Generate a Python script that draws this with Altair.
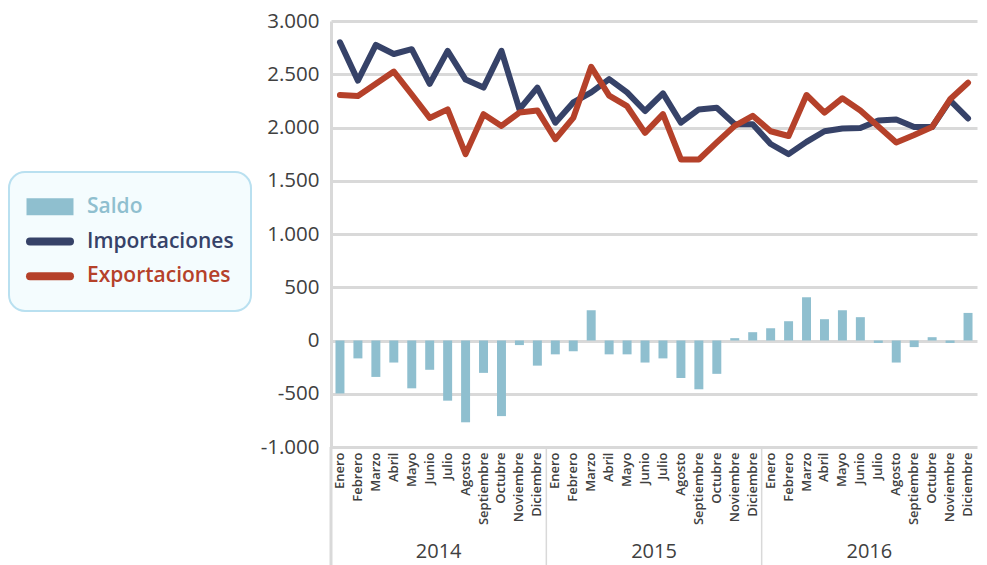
import altair as alt
import pandas as pd

# ---------------- data ----------------
months = ["Enero", "Febrero", "Marzo", "Abril", "Mayo", "Junio", "Julio",
          "Agosto", "Septiembre", "Octubre", "Noviembre", "Diciembre"]
years = ["2014", "2015", "2016"]

saldo = [-497, -168, -342, -207, -449, -275, -565, -768, -304, -710, -43, -236,
         -130, -101, 284, -130, -130, -207, -168, -352, -458, -313, 22, 78,
         115, 181, 406, 200, 284, 219, -23, -207, -62, 31, -23, 259]

importaciones = [2800, 2440, 2775, 2690, 2735, 2410, 2720, 2450, 2375, 2720, 2170, 2375,
                 2045, 2235, 2330, 2455, 2330, 2155, 2320, 2045, 2170, 2185, 2030, 2030,
                 1845, 1750, 1865, 1965, 1990, 1995, 2065, 2075, 2005, 2005, 2255, 2085]

exportaciones = [2305, 2295, 2410, 2525, 2310, 2090, 2170, 1750, 2125, 2015, 2140, 2160,
                 1890, 2090, 2570, 2300, 2200, 1950, 2125, 1700, 1700, 1860, 2015, 2110,
                 1965, 1920, 2305, 2140, 2275, 2160, 2010, 1860, 1930, 2005, 2265, 2420]

series = ["Saldo", "Importaciones", "Exportaciones"]
colors = ["#8fbfcf", "#364268", "#b5412a"]
y_ticks = [-1000, -500, 0, 500, 1000, 1500, 2000, 2500, 3000]

keys = [f"{y}-{m + 1:02d}" for y in years for m in range(len(months))]
df = pd.DataFrame({"key": keys, "saldo": saldo,
                   "imp": importaciones, "exp": exportaciones})
sep_df = pd.DataFrame({"key": [f"{y}-01" for y in years]})
year_df = pd.DataFrame({"key": [f"{y}-06" for y in years], "year": years})
leg_df = pd.DataFrame({"series": series})

# ---------------- layout constants ----------------
W, H = 646, 426
GRID = "#d9d9d9"
TXT = "#404040"
FONT = "Open Sans"

month_expr = ("[" + ",".join(f"'{m}'" for m in months) + "]"
              "[toNumber(substring(datum.value, 5, 7)) - 1]")
y_expr = ("(datum.value < 0 ? '-' : '') + "
          "replace(format(abs(datum.value), ','), ',', '.')")

x_enc = alt.X(
    "key:O",
    scale=alt.Scale(paddingInner=0, paddingOuter=0),
    axis=alt.Axis(title=None, labelAngle=270, labelExpr=month_expr,
                  labelFontSize=13, labelFontWeight=600, labelColor=TXT,
                  labelFont=FONT, labelPadding=5, ticks=False, domain=False,
                  grid=False),
)

y_enc = alt.Y(
    "saldo:Q",
    scale=alt.Scale(domain=[-1000, 3000], nice=False),
    axis=alt.Axis(title=None, values=y_ticks, labelExpr=y_expr,
                  labelFontSize=20.5, labelColor=TXT, labelFont=FONT,
                  labelPadding=12, ticks=False, domain=True,
                  domainColor=GRID, domainWidth=3, grid=True,
                  gridColor=GRID, gridWidth=3),
)

base = alt.Chart(df)

bars = base.mark_bar(color=colors[0], width=alt.RelativeBandSize(0.5)).encode(
    x=x_enc, y=y_enc)

imp_line = base.mark_line(color=colors[1], strokeWidth=6, strokeJoin="round",
                          strokeCap="round").encode(
    x=alt.X("key:O"), y=alt.Y("imp:Q"))

exp_line = base.mark_line(color=colors[2], strokeWidth=6, strokeJoin="round",
                          strokeCap="round").encode(
    x=alt.X("key:O"), y=alt.Y("exp:Q"))

sep_first = alt.Chart(sep_df).transform_filter(
    alt.datum.key == sep_df["key"][0]).mark_rule(
    color=GRID, strokeWidth=3).encode(
    x=alt.X("key:O", bandPosition=0), y=alt.value(H), y2=alt.value(H + 123))

sep_rest = alt.Chart(sep_df).transform_filter(
    alt.datum.key != sep_df["key"][0]).mark_rule(
    color=GRID, strokeWidth=1.5).encode(
    x=alt.X("key:O", bandPosition=0), y=alt.value(H), y2=alt.value(H + 123))

year_text = alt.Chart(year_df).mark_text(
    fontSize=20, color=TXT, font=FONT, baseline="middle").encode(
    x=alt.X("key:O", bandPosition=1), y=alt.value(H + 105), text="year:N")

main = alt.layer(bars, imp_line, exp_line, sep_first, sep_rest, year_text).properties(
    width=W, height=H, view=alt.ViewBackground(stroke="transparent"))

# ---------------- legend panel ----------------
ycat = alt.Y("series:N", sort=series, axis=None,
             scale=alt.Scale(type="point", padding=1.0))
col = alt.Color("series:N", scale=alt.Scale(domain=series, range=colors),
                legend=None)

lbase = alt.Chart(leg_df)
sw_bar = lbase.transform_filter(alt.datum.series == series[0]).mark_point(
    shape="M-1,-0.36H1V0.36H-1Z", filled=True, size=2209, opacity=1).encode(
    x=alt.value(41), y=ycat, color=col)
sw_line = lbase.transform_filter(alt.datum.series != series[0]).mark_point(
    shape="stroke", size=1600, strokeWidth=8, strokeCap="round",
    filled=False, opacity=1).encode(
    x=alt.value(41), y=ycat, color=col)
leg_text = lbase.mark_text(align="left", baseline="middle", fontSize=21,
                           fontWeight=600, font=FONT).encode(
    x=alt.value(78), y=ycat, text="series:N", color=col)

legend = alt.layer(sw_bar, sw_line, leg_text).properties(
    width=242, height=139,
    view=alt.ViewBackground(fill="#f4fcfe", stroke="#b9e0f0", strokeWidth=2,
                            cornerRadius=16))

spacer = alt.Chart(pd.DataFrame({"s": [""]})).mark_text().encode(
    text="s:N").properties(width=242, height=149,
                           view=alt.ViewBackground(stroke="transparent"))

left = alt.vconcat(spacer, legend, spacing=0)

chart = alt.hconcat(left, main, spacing=7).properties(
    padding={"left": 0, "top": 2, "right": 0, "bottom": 0}
).configure_view(stroke="transparent")

chart.save("out.html", embed_options={"renderer": "svg", "actions": False})
